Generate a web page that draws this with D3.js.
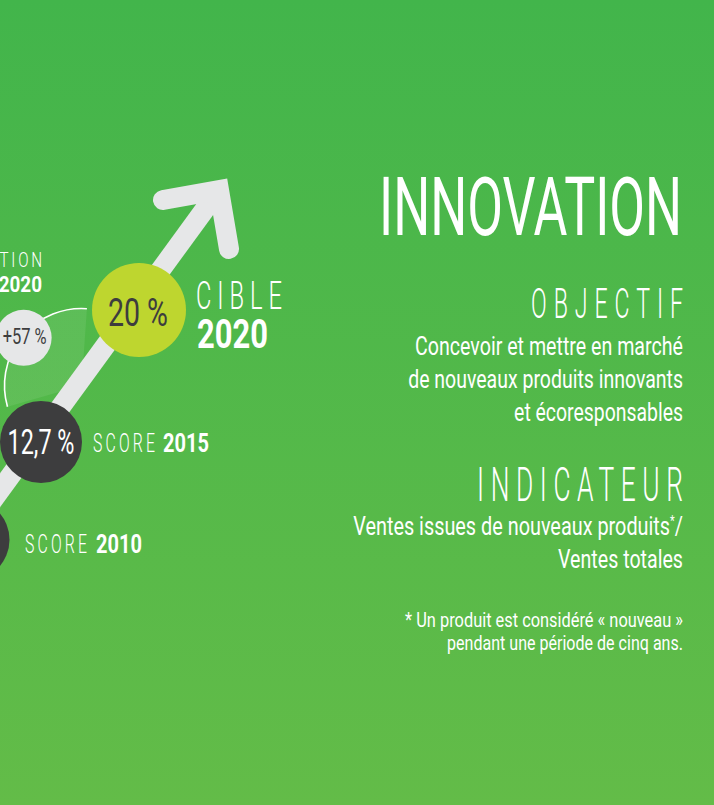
<!DOCTYPE html>
<html>
<head>
<meta charset="utf-8">
<script src="https://cdn.jsdelivr.net/npm/d3@7"></script>
<style>
  html, body { margin: 0; padding: 0; background: #4db749; }
  svg { display: block; }
</style>
</head>
<body>
<div class="c_chart"></div>
<script>
/* DATA
------------------------------------------------------
*/
const years = [2010, 2015, 2020];
const scores = [7.3, 12.7, 20];              // 2010 : estimé (hors cadre)
const scoreTags = ["SCORE", "SCORE", "CIBLE"];
const variationLabel = "+57 %";
const variationTitle = ["VARIATION", "2015-2020"];

const title = "INNOVATION";
const objectifTitle = "OBJECTIF";
const objectifLines = ["Concevoir et mettre en marché", "de nouveaux produits innovants", "et écoresponsables"];
const indicateurTitle = "INDICATEUR";
const indicateurLines = ["Ventes issues de nouveaux produits", "Ventes totales"];
const noteLines = ["* Un produit est considéré « nouveau »", "pendant une période de cinq ans."];

/* SVG, FORMAT
------------------------------------------------------
*/
const width = 714;
const height = 805;
const font = "Roboto, 'Noto Sans', sans-serif";

const svg = d3.select(".c_chart")
	.append("svg")
	.attr("width", width)
	.attr("height", height);

const fr = d3.formatLocale({decimal: ",", thousands: "\u2009", grouping: [3], currency: ["", " €"]});
const fmt = v => fr.format("~r")(v) + " %";

const defs = svg.append("defs");
const bg = defs.append("linearGradient").attr("id", "bg")
	.attr("x1", 0).attr("y1", 0).attr("x2", 0).attr("y2", 1);
bg.append("stop").attr("offset", 0).attr("stop-color", "#42b54b");
bg.append("stop").attr("offset", 1).attr("stop-color", "#63bc48");

const glow = defs.append("radialGradient").attr("id", "glow")
	.attr("gradientUnits", "userSpaceOnUse");
glow.append("stop").attr("offset", 0.2).attr("stop-color", "#fff").attr("stop-opacity", 0);
glow.append("stop").attr("offset", 1).attr("stop-color", "#fff").attr("stop-opacity", 0.08);

svg.append("rect")
	.attr("width", width)
	.attr("height", height)
	.attr("fill", "url(#bg)");

/* helper texte : condensé à la largeur voulue */
function txt(g, o) {
	const ls = (o.ls || 0) * o.size;
	const anchor = o.anchor || "start";
	const t = g.append("text")
		.attr("x", anchor === "end" ? ls : 0)
		.attr("text-anchor", anchor)
		.attr("font-family", font)
		.attr("font-size", o.size)
		.attr("font-weight", o.weight || 400)
		.attr("fill", o.fill || "#fff")
		.style("letter-spacing", ls + "px")
		.text(o.text);
	if (o.sup) {
		t.append("tspan").attr("font-size", o.size * 0.55).attr("dy", -o.size * 0.35).text(o.sup);
		t.append("tspan").attr("dy", o.size * 0.35).text(o.after);
	}
	let k = 1;
	if (o.w) {
		const L = t.node().getComputedTextLength();
		k = o.w / (L - ls);
	}
	t.attr("transform", `translate(${o.x},${o.y}) scale(${k},1)`);
	return t;
}

/* SCALES
------------------------------------------------------
*/
const x = d3.scaleLinear().domain([scores[1], scores[2]]).range([41, 139]);
const y = d3.scaleLinear().domain([scores[1], scores[2]]).range([442, 310]);
const r = d3.scaleOrdinal().domain(years).range([41, 41, 47]);
const fill = d3.scaleOrdinal().domain(years).range(["#3d3d3e", "#3d3d3e", "#bed62f"]);

const pts = years.map((yr, i) => ({year: yr, value: scores[i], tag: scoreTags[i], cx: x(scores[i]), cy: y(scores[i])}));

/* ARC VARIATION
------------------------------------------------------
*/
const arcC = [81.5, 385.5];
const arcR = 77;
const g = svg.append("g");

glow.attr("cx", arcC[0]).attr("cy", arcC[1]).attr("r", arcR);
g.append("path")
	.attr("transform", `translate(${arcC})`)
	.attr("d", d3.arc()({innerRadius: 0, outerRadius: arcR, startAngle: -1.85, endAngle: 0.07}))
	.attr("fill", "url(#glow)");
g.append("path")
	.attr("transform", `translate(${arcC})`)
	.attr("d", d3.arc()({innerRadius: arcR, outerRadius: arcR, startAngle: -1.85, endAngle: 0.07}))
	.attr("fill", "none")
	.attr("stroke", "#fff")
	.attr("stroke-width", 1.6);

/* FLECHE
------------------------------------------------------
*/
const corner = [219, 190];
g.append("line")
	.attr("x1", -80).attr("y1", 600)
	.attr("x2", corner[0] - 3).attr("y2", corner[1] + 4)
	.attr("stroke", "#e6e7e8")
	.attr("stroke-width", 20);
g.append("path")
	.attr("d", d3.line()([[163, 200], corner, [229, 249]]))
	.attr("fill", "none")
	.attr("stroke", "#e6e7e8")
	.attr("stroke-width", 20)
	.attr("stroke-linecap", "round")
	.attr("stroke-linejoin", "miter");

/* CERCLES
------------------------------------------------------
*/
// variation
const va = -0.87;
const vx = arcC[0] + arcR * Math.sin(va) + 1;
const vy = arcC[1] - arcR * Math.cos(va) + 2;
g.append("circle").attr("cx", vx).attr("cy", vy).attr("r", 28).attr("fill", "#e6e7e8");
txt(g, {x: vx + 1, y: 344, text: variationLabel, size: 22, weight: 400, fill: "#3d3d3e", anchor: "middle", w: 44});

txt(g, {x: 42, y: 267, text: variationTitle[0], size: 20, weight: 300, ls: 0.18, anchor: "end", w: 97});
txt(g, {x: 42, y: 292, text: variationTitle[1], size: 22.5, weight: 700, anchor: "end", w: 94});

g.selectAll(".score")
	.data(pts)
	.enter()
	.append("circle")
	.attr("class", "score")
	.attr("cx", d => d.cx)
	.attr("cy", d => d.cy)
	.attr("r", d => r(d.year))
	.attr("fill", d => fill(d.year));

// valeurs
txt(g, {x: pts[1].cx, y: 454, text: fmt(pts[1].value), size: 35, weight: 400, anchor: "middle", w: 67});
txt(g, {x: pts[2].cx - 1, y: 326, text: fmt(pts[2].value), size: 39, weight: 400, fill: "#3d3d3e", anchor: "middle", w: 60});

// étiquettes
txt(g, {x: 25, y: 553, text: pts[0].tag, size: 26.5, weight: 300, ls: 0.2, w: 62});
txt(g, {x: 96, y: 553, text: String(pts[0].year), size: 26.5, weight: 700, w: 46});
txt(g, {x: 93, y: 452, text: pts[1].tag, size: 26.5, weight: 300, ls: 0.2, w: 62});
txt(g, {x: 163, y: 452, text: String(pts[1].year), size: 26.5, weight: 700, w: 46});
txt(g, {x: 196, y: 309, text: pts[2].tag, size: 38, weight: 300, ls: 0.25, w: 86});
txt(g, {x: 197, y: 348, text: String(pts[2].year), size: 40, weight: 700, w: 71});

/* COLONNE DROITE
------------------------------------------------------
*/
const right = 683;
const col = svg.append("g");
txt(col, {x: right - 1, y: 235, text: title, size: 81, weight: 400, anchor: "end", w: 303});
txt(col, {x: right, y: 318, text: objectifTitle, size: 42, weight: 300, ls: 0.3, anchor: "end", w: 152});
const objW = [268, 275, 169];
objectifLines.forEach((l, i) => txt(col, {x: right, y: 355 + i * 33, text: l, size: 25, weight: 400, anchor: "end", w: objW[i]}));
txt(col, {x: right, y: 501, text: indicateurTitle, size: 48, weight: 300, ls: 0.25, anchor: "end", w: 206});
txt(col, {x: right, y: 535, text: indicateurLines[0], size: 25, weight: 400, anchor: "end", w: 330, sup: "*", after: "/"});
txt(col, {x: right, y: 568, text: indicateurLines[1], size: 25, weight: 400, anchor: "end", w: 125});
const noteW = [278, 236];
noteLines.forEach((l, i) => txt(col, {x: right, y: 627 + i * 23, text: l, size: 21, weight: 400, anchor: "end", w: noteW[i]}));
</script>
</body>
</html>
